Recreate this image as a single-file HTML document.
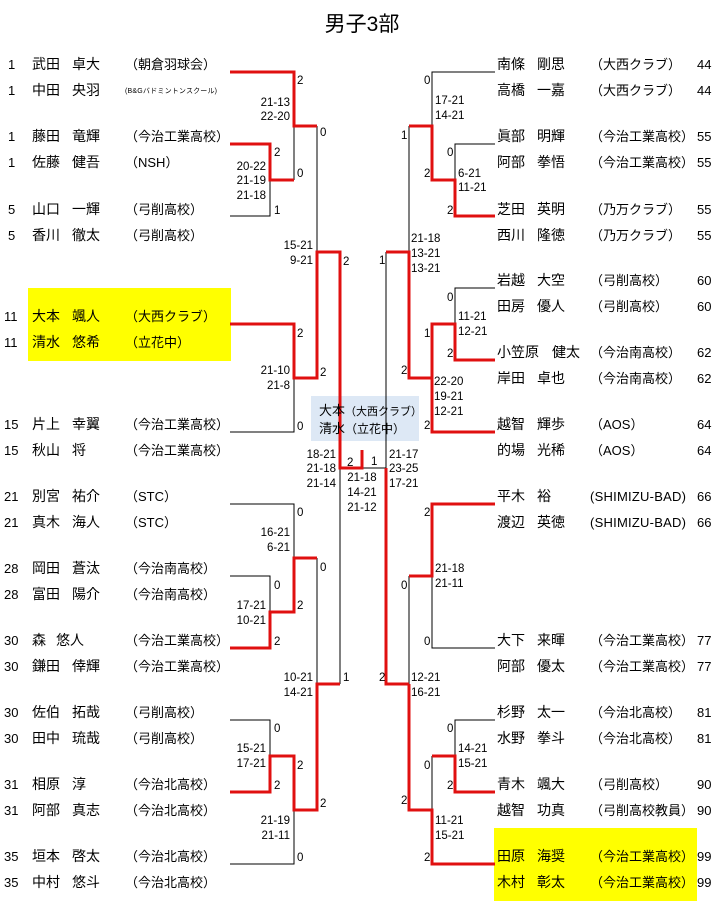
<!DOCTYPE html>
<html><head><meta charset="utf-8"><style>
html,body{margin:0;padding:0;background:#fff;}
svg{display:block;font-family:"Liberation Sans","Noto Sans CJK JP",sans-serif;}
.n{font-size:14px;fill:#000;}
.c{font-size:13px;fill:#000;}
.s{font-size:11.5px;fill:#000;}
.r{fill:none;stroke:#e01010;stroke-width:3;}
.b{fill:none;stroke:#000;stroke-width:1;}
</style></head><body>
<svg width="723" height="901" viewBox="0 0 723 901" xmlns="http://www.w3.org/2000/svg">
<rect x="28" y="288" width="203" height="73" fill="#ffff00"/>
<rect x="494" y="828" width="203" height="73" fill="#ffff00"/>
<rect x="311" y="396" width="108" height="45" fill="#dde8f5"/>
<text x="362" y="31" font-size="21" text-anchor="middle">男子3部</text>

<polyline class="b" points="294,126 294,180"/>
<polyline class="b" points="230,216 270,216 270,180"/>
<polyline class="b" points="317,126 317,252"/>
<polyline class="b" points="230,432 294,432 294,378"/>
<polyline class="b" points="230,504 294,504 294,558"/>
<polyline class="b" points="230,576 270,576 270,612"/>
<polyline class="b" points="317,558 317,684"/>
<polyline class="b" points="230,720 270,720 270,756"/>
<polyline class="b" points="230,864 294,864 294,810"/>
<polyline class="b" points="340,468 340,684"/>
<polyline class="b" points="362,468 386,468"/>
<polyline class="b" points="495,72 432,72 432,126"/>
<polyline class="b" points="495,144 455,144 455,180"/>
<polyline class="b" points="409,126 409,252"/>
<polyline class="b" points="495,288 455,288 455,324"/>
<polyline class="b" points="386,252 386,468"/>
<polyline class="b" points="409,576 409,684"/>
<polyline class="b" points="495,648 432,648 432,576"/>
<polyline class="b" points="495,720 455,720 455,756"/>
<polyline class="b" points="432,756 432,810"/>

<polyline class="r" points="230,72 294,72 294,126 317,126"/>
<polyline class="r" points="230,144 270,144 270,180 294,180"/>
<polyline class="r" points="230,324 294,324 294,378 317,378 317,252 340,252 340,468 362,468 362,450"/>
<polyline class="r" points="230,648 270,648 270,612 294,612 294,558 317,558"/>
<polyline class="r" points="230,792 270,792 270,756 294,756 294,810 317,810 317,684 340,684"/>
<polyline class="r" points="495,216 455,216 455,180 432,180 432,126 409,126"/>
<polyline class="r" points="495,360 455,360 455,324 432,324 432,432 495,432"/>
<polyline class="r" points="432,378 409,378 409,252 386,252"/>
<polyline class="r" points="386,468 386,684 409,684"/>
<polyline class="r" points="495,504 432,504 432,576 409,576"/>
<polyline class="r" points="409,684 409,810 432,810 432,864 495,864"/>
<polyline class="r" points="495,792 455,792 455,756 432,756"/>

<text x="319" y="415" font-size="13">大本<tspan font-size="11">（大西クラブ）</tspan></text>
<text x="319" y="433" font-size="13">清水<tspan font-size="12">（立花中）</tspan></text>

<g class="s">
<text x="297" y="84">2</text>
<text x="290" y="106" text-anchor="end">21-13</text>
<text x="290" y="120" text-anchor="end">22-20</text>
<text x="320" y="136">0</text>
<text x="274" y="156">2</text>
<text x="266" y="170" text-anchor="end">20-22</text>
<text x="266" y="184" text-anchor="end">21-19</text>
<text x="266" y="199" text-anchor="end">21-18</text>
<text x="297" y="177">0</text>
<text x="274" y="214">1</text>
<text x="313" y="249" text-anchor="end">15-21</text>
<text x="313" y="264" text-anchor="end">9-21</text>
<text x="343" y="265">2</text>
<text x="297" y="337">2</text>
<text x="290" y="374" text-anchor="end">21-10</text>
<text x="290" y="389" text-anchor="end">21-8</text>
<text x="320" y="376">2</text>
<text x="297" y="430">0</text>
<text x="336" y="458" text-anchor="end">18-21</text>
<text x="336" y="472" text-anchor="end">21-18</text>
<text x="336" y="487" text-anchor="end">21-14</text>
<text x="347" y="466">2</text>
<text x="371" y="465">1</text>
<text x="362" y="481" text-anchor="middle">21-18</text>
<text x="362" y="496" text-anchor="middle">14-21</text>
<text x="362" y="511" text-anchor="middle">21-12</text>
<text x="389" y="458">21-17</text>
<text x="389" y="472">23-25</text>
<text x="389" y="487">17-21</text>
<text x="297" y="516">0</text>
<text x="290" y="536" text-anchor="end">16-21</text>
<text x="290" y="551" text-anchor="end">6-21</text>
<text x="320" y="571">0</text>
<text x="274" y="589">0</text>
<text x="297" y="609">2</text>
<text x="266" y="609" text-anchor="end">17-21</text>
<text x="266" y="624" text-anchor="end">10-21</text>
<text x="274" y="645">2</text>
<text x="313" y="681" text-anchor="end">10-21</text>
<text x="313" y="696" text-anchor="end">14-21</text>
<text x="343" y="681">1</text>
<text x="274" y="732">0</text>
<text x="266" y="752" text-anchor="end">15-21</text>
<text x="266" y="767" text-anchor="end">17-21</text>
<text x="297" y="769">2</text>
<text x="274" y="789">2</text>
<text x="320" y="807">2</text>
<text x="290" y="824" text-anchor="end">21-19</text>
<text x="290" y="839" text-anchor="end">21-11</text>
<text x="297" y="861">0</text>
<text x="424" y="84">0</text>
<text x="435" y="104">17-21</text>
<text x="435" y="119">14-21</text>
<text x="401" y="139">1</text>
<text x="447" y="156">0</text>
<text x="424" y="177">2</text>
<text x="458" y="177">6-21</text>
<text x="458" y="191">11-21</text>
<text x="447" y="214">2</text>
<text x="411" y="242">21-18</text>
<text x="411" y="257">13-21</text>
<text x="411" y="272">13-21</text>
<text x="379" y="264">1</text>
<text x="447" y="301">0</text>
<text x="458" y="320">11-21</text>
<text x="458" y="335">12-21</text>
<text x="424" y="337">1</text>
<text x="447" y="357">2</text>
<text x="401" y="374">2</text>
<text x="434" y="385">22-20</text>
<text x="434" y="400">19-21</text>
<text x="434" y="415">12-21</text>
<text x="424" y="429">2</text>
<text x="424" y="516">2</text>
<text x="435" y="572">21-18</text>
<text x="435" y="587">21-11</text>
<text x="401" y="589">0</text>
<text x="424" y="645">0</text>
<text x="379" y="681">2</text>
<text x="411" y="681">12-21</text>
<text x="411" y="696">16-21</text>
<text x="447" y="732">0</text>
<text x="458" y="752">14-21</text>
<text x="458" y="767">15-21</text>
<text x="424" y="769">0</text>
<text x="447" y="789">2</text>
<text x="401" y="804">2</text>
<text x="435" y="824">11-21</text>
<text x="435" y="839">15-21</text>
<text x="424" y="861">2</text>
</g>

<g>
<text class="c" x="8" y="69">1</text><text class="n" x="32" y="69">武田</text><text class="n" x="72" y="69">卓大</text><text class="c" x="125" y="69">（朝倉羽球会）</text>
<text class="c" x="8" y="95">1</text><text class="n" x="32" y="95">中田</text><text class="n" x="72" y="95">央羽</text><text x="125" y="93" font-size="7" textLength="92">(B&amp;Gバドミントンスクール)</text>
<text class="c" x="8" y="141">1</text><text class="n" x="32" y="141">藤田</text><text class="n" x="72" y="141">竜輝</text><text class="c" x="125" y="141">（今治工業高校）</text>
<text class="c" x="8" y="167">1</text><text class="n" x="32" y="167">佐藤</text><text class="n" x="72" y="167">健吾</text><text class="c" x="125" y="167">（NSH）</text>
<text class="c" x="8" y="214">5</text><text class="n" x="32" y="214">山口</text><text class="n" x="72" y="214">一輝</text><text class="c" x="125" y="214">（弓削高校）</text>
<text class="c" x="8" y="240">5</text><text class="n" x="32" y="240">香川</text><text class="n" x="72" y="240">徹太</text><text class="c" x="125" y="240">（弓削高校）</text>
<text class="c" x="4" y="321">11</text><text class="n" x="32" y="321">大本</text><text class="n" x="72" y="321">颯人</text><text class="c" x="125" y="321">（大西クラブ）</text>
<text class="c" x="4" y="347">11</text><text class="n" x="32" y="347">清水</text><text class="n" x="72" y="347">悠希</text><text class="c" x="125" y="347">（立花中）</text>
<text class="c" x="4" y="429">15</text><text class="n" x="32" y="429">片上</text><text class="n" x="72" y="429">幸翼</text><text class="c" x="125" y="429">（今治工業高校）</text>
<text class="c" x="4" y="455">15</text><text class="n" x="32" y="455">秋山</text><text class="n" x="72" y="455">将</text><text class="c" x="125" y="455">（今治工業高校）</text>
<text class="c" x="4" y="501">21</text><text class="n" x="32" y="501">別宮</text><text class="n" x="72" y="501">祐介</text><text class="c" x="125" y="501">（STC）</text>
<text class="c" x="4" y="527">21</text><text class="n" x="32" y="527">真木</text><text class="n" x="72" y="527">海人</text><text class="c" x="125" y="527">（STC）</text>
<text class="c" x="4" y="573">28</text><text class="n" x="32" y="573">岡田</text><text class="n" x="72" y="573">蒼汰</text><text class="c" x="125" y="573">（今治南高校）</text>
<text class="c" x="4" y="599">28</text><text class="n" x="32" y="599">富田</text><text class="n" x="72" y="599">陽介</text><text class="c" x="125" y="599">（今治南高校）</text>
<text class="c" x="4" y="645">30</text><text class="n" x="32" y="645">森</text><text class="n" x="56" y="645">悠人</text><text class="c" x="125" y="645">（今治工業高校）</text>
<text class="c" x="4" y="671">30</text><text class="n" x="32" y="671">鎌田</text><text class="n" x="72" y="671">倖輝</text><text class="c" x="125" y="671">（今治工業高校）</text>
<text class="c" x="4" y="717">30</text><text class="n" x="32" y="717">佐伯</text><text class="n" x="72" y="717">拓哉</text><text class="c" x="125" y="717">（弓削高校）</text>
<text class="c" x="4" y="743">30</text><text class="n" x="32" y="743">田中</text><text class="n" x="72" y="743">琉哉</text><text class="c" x="125" y="743">（弓削高校）</text>
<text class="c" x="4" y="789">31</text><text class="n" x="32" y="789">相原</text><text class="n" x="72" y="789">淳</text><text class="c" x="125" y="789">（今治北高校）</text>
<text class="c" x="4" y="815">31</text><text class="n" x="32" y="815">阿部</text><text class="n" x="72" y="815">真志</text><text class="c" x="125" y="815">（今治北高校）</text>
<text class="c" x="4" y="861">35</text><text class="n" x="32" y="861">垣本</text><text class="n" x="72" y="861">啓太</text><text class="c" x="125" y="861">（今治北高校）</text>
<text class="c" x="4" y="887">35</text><text class="n" x="32" y="887">中村</text><text class="n" x="72" y="887">悠斗</text><text class="c" x="125" y="887">（今治北高校）</text>
</g>

<g>
<text class="n" x="497" y="69">南條</text><text class="n" x="537" y="69">剛思</text><text class="c" x="590" y="69">（大西クラブ）</text><text class="c" x="697" y="69">44</text>
<text class="n" x="497" y="95">高橋</text><text class="n" x="537" y="95">一嘉</text><text class="c" x="590" y="95">（大西クラブ）</text><text class="c" x="697" y="95">44</text>
<text class="n" x="497" y="141">眞部</text><text class="n" x="537" y="141">明輝</text><text class="c" x="590" y="141">（今治工業高校）</text><text class="c" x="697" y="141">55</text>
<text class="n" x="497" y="167">阿部</text><text class="n" x="537" y="167">拳悟</text><text class="c" x="590" y="167">（今治工業高校）</text><text class="c" x="697" y="167">55</text>
<text class="n" x="497" y="214">芝田</text><text class="n" x="537" y="214">英明</text><text class="c" x="590" y="214">（乃万クラブ）</text><text class="c" x="697" y="214">55</text>
<text class="n" x="497" y="240">西川</text><text class="n" x="537" y="240">隆徳</text><text class="c" x="590" y="240">（乃万クラブ）</text><text class="c" x="697" y="240">55</text>
<text class="n" x="497" y="285">岩越</text><text class="n" x="537" y="285">大空</text><text class="c" x="590" y="285">（弓削高校）</text><text class="c" x="697" y="285">60</text>
<text class="n" x="497" y="311">田房</text><text class="n" x="537" y="311">優人</text><text class="c" x="590" y="311">（弓削高校）</text><text class="c" x="697" y="311">60</text>
<text class="n" x="497" y="357">小笠原</text><text class="n" x="552" y="357">健太</text><text class="c" x="590" y="357">（今治南高校）</text><text class="c" x="697" y="357">62</text>
<text class="n" x="497" y="383">岸田</text><text class="n" x="537" y="383">卓也</text><text class="c" x="590" y="383">（今治南高校）</text><text class="c" x="697" y="383">62</text>
<text class="n" x="497" y="429">越智</text><text class="n" x="537" y="429">輝歩</text><text class="c" x="590" y="429">（AOS）</text><text class="c" x="697" y="429">64</text>
<text class="n" x="497" y="455">的場</text><text class="n" x="537" y="455">光稀</text><text class="c" x="590" y="455">（AOS）</text><text class="c" x="697" y="455">64</text>
<text class="n" x="497" y="501">平木</text><text class="n" x="537" y="501">裕</text><text class="c" x="590" y="501" textLength="96">(SHIMIZU-BAD)</text><text class="c" x="697" y="501">66</text>
<text class="n" x="497" y="527">渡辺</text><text class="n" x="537" y="527">英徳</text><text class="c" x="590" y="527" textLength="96">(SHIMIZU-BAD)</text><text class="c" x="697" y="527">66</text>
<text class="n" x="497" y="645">大下</text><text class="n" x="537" y="645">来暉</text><text class="c" x="590" y="645">（今治工業高校）</text><text class="c" x="697" y="645">77</text>
<text class="n" x="497" y="671">阿部</text><text class="n" x="537" y="671">優太</text><text class="c" x="590" y="671">（今治工業高校）</text><text class="c" x="697" y="671">77</text>
<text class="n" x="497" y="717">杉野</text><text class="n" x="537" y="717">太一</text><text class="c" x="590" y="717">（今治北高校）</text><text class="c" x="697" y="717">81</text>
<text class="n" x="497" y="743">水野</text><text class="n" x="537" y="743">拳斗</text><text class="c" x="590" y="743">（今治北高校）</text><text class="c" x="697" y="743">81</text>
<text class="n" x="497" y="789">青木</text><text class="n" x="537" y="789">颯大</text><text class="c" x="590" y="789">（弓削高校）</text><text class="c" x="697" y="789">90</text>
<text class="n" x="497" y="815">越智</text><text class="n" x="537" y="815">功真</text><text class="c" x="590" y="815">（弓削高校教員）</text><text class="c" x="697" y="815">90</text>
<text class="n" x="497" y="861">田原</text><text class="n" x="537" y="861">海奨</text><text class="c" x="590" y="861">（今治工業高校）</text><text class="c" x="697" y="861">99</text>
<text class="n" x="497" y="887">木村</text><text class="n" x="537" y="887">彰太</text><text class="c" x="590" y="887">（今治工業高校）</text><text class="c" x="697" y="887">99</text>
</g>
</svg>
</body></html>
